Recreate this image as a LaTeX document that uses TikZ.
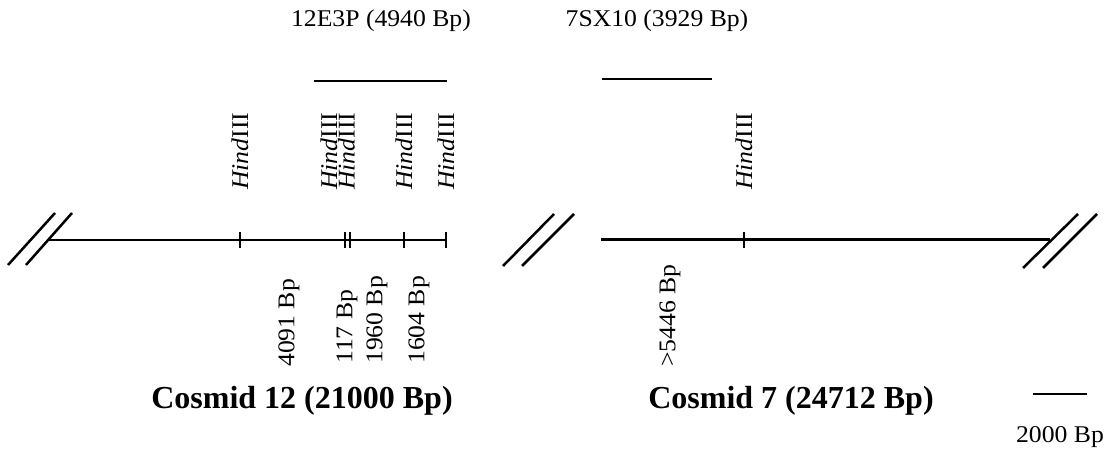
\documentclass[tikz,border=0pt]{standalone}
\usepackage{fontspec}
\setmainfont{Liberation Serif}[FakeStretch=1.07]
\newfontfamily\headfont{Liberation Serif}
\begin{document}
\begin{tikzpicture}[x=1pt,y=-1pt,
  lbl/.style={inner sep=0pt,font=\fontsize{24}{24}\selectfont},
  vlbl/.style={lbl,rotate=90,anchor=west},
  title/.style={inner sep=0pt,font=\headfont\fontsize{32}{32}\selectfont\bfseries},
  dna/.style={line width=2pt},
  dnathick/.style={line width=3pt},
  cut/.style={line width=2pt},
  brk/.style={line width=2.5pt},
  probe/.style={line width=2.5pt}]
\useasboundingbox (0,0) rectangle (1117,457);

% ---- Cosmid 12 ----
\coordinate (c12a) at (49,240);
\coordinate (c12b) at (446,240);
\draw[dna] (c12a) -- (c12b);
\foreach \x [count=\i] in {240,345,350,404,446}{
  \coordinate (h12\i) at (\x,240);
  \draw[cut] (h12\i) ++(0,-8) -- ++(0,16);
}
\draw[brk] (8,265) -- (55,213);
\draw[brk] (26,265) -- (72,213);

\node[vlbl] (s1) at (240,190) {\textit{Hind}III};
\node[vlbl] (s2) at (329,190) {\textit{Hind}III};
\node[vlbl] (s3) at (346.5,190) {\textit{Hind}III};
\node[vlbl] (s4) at (404,190) {\textit{Hind}III};
\node[vlbl] (s5) at (446,190) {\textit{Hind}III};

\node[vlbl] (f1) at (289,367) {4091 Bp};
\node[vlbl] (f2) at (347,364) {117 Bp};
\node[vlbl] (f3) at (377,364) {1960 Bp};
\node[vlbl] (f4) at (419,364) {1604 Bp};

% probe 12E3P
\node[lbl] (p12) at (381,21) {12E3P (4940 Bp)};
\coordinate (p12a) at (314,81);
\coordinate (p12b) at (447,81);
\draw[probe] (p12a) -- (p12b);

\node[title] (t12) at (302,401) {Cosmid 12 (21000 Bp)};

% break between the two cosmids
\draw[brk] (503,266) -- (554,214);
\draw[brk] (522,266) -- (574,214);

% ---- Cosmid 7 ----
\coordinate (c7a) at (601,240);
\coordinate (c7b) at (1050,240);
\draw[dnathick] (c7a) -- (c7b);
\coordinate (h71) at (744,240);
\draw[cut] (h71) ++(0,-8) -- ++(0,16);
\node[vlbl] (s6) at (744,190) {\textit{Hind}III};
\node[vlbl] (f5) at (670,367) {>5446 Bp};
\draw[brk] (1023,268) -- (1078,214);
\draw[brk] (1043,268) -- (1097,214);

% probe 7SX10
\node[lbl] (p7) at (657,21) {7SX10 (3929 Bp)};
\coordinate (p7a) at (602,79);
\coordinate (p7b) at (712,79);
\draw[probe] (p7a) -- (p7b);

\node[title] (t7) at (791,401) {Cosmid 7 (24712 Bp)};

% scale bar
\coordinate (sba) at (1033,394);
\coordinate (sbb) at (1087,394);
\draw[probe] (sba) -- (sbb);
\node[lbl] (sb) at (1060,437) {2000 Bp};
\end{tikzpicture}
\end{document}
